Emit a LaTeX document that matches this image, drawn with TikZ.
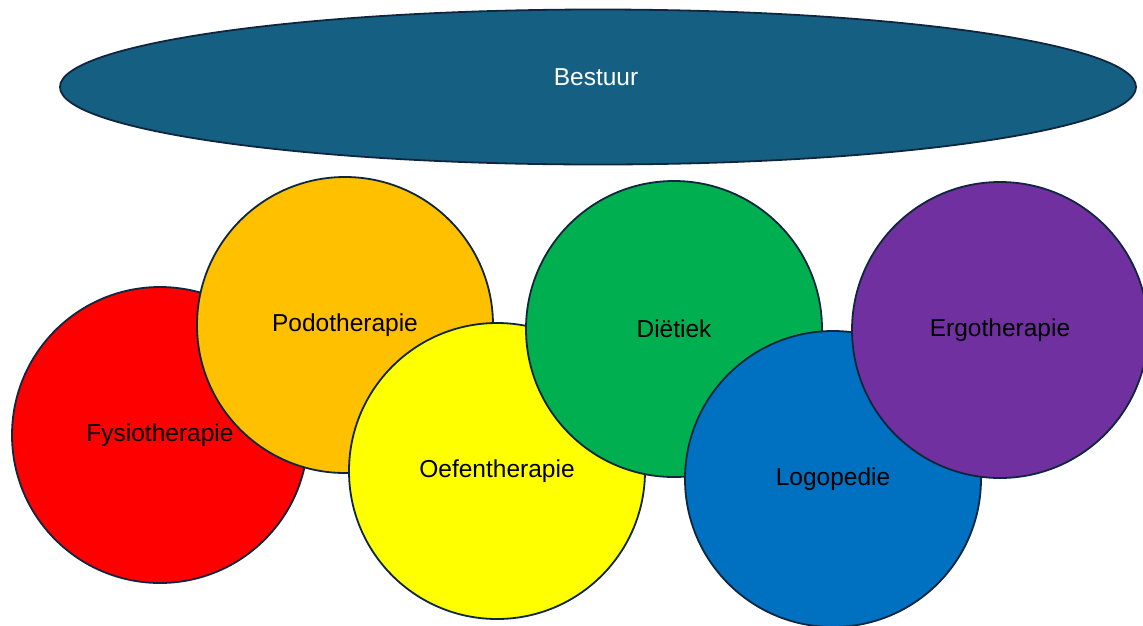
\documentclass[tikz,border=0pt]{standalone}
\usepackage{fontspec}
\setmainfont{Liberation Sans}
\usetikzlibrary{shapes.geometric}
\definecolor{edge}{HTML}{10263F}
\definecolor{cBest}{HTML}{156082}
\definecolor{cRed}{HTML}{FF0000}
\definecolor{cOrange}{HTML}{FFC000}
\definecolor{cYellow}{HTML}{FFFF00}
\definecolor{cGreen}{HTML}{00B050}
\definecolor{cBlue}{HTML}{0070C0}
\definecolor{cPurple}{HTML}{7030A0}
\tikzset{
  lbl/.style={font=\fontsize{24.5}{28}\selectfont, inner sep=0pt},
  disc/.style={circle, draw=edge, line width=1.8pt, minimum size=296pt, inner sep=0pt,
    lbl, text=black},
}
\begin{document}
\begin{tikzpicture}[x=1pt,y=-1pt]
\useasboundingbox (0,0) rectangle (1143,625);
\fill[white] (0,0) rectangle (1143,625);
\node[ellipse, draw=edge, line width=1.8pt, fill=cBest, minimum width=1076pt, minimum height=155pt,
  inner sep=0pt] (bestuur) at (598,87) {};
\node[lbl, text=white] (bestuurtext) at (596,77) {Bestuur};
\node[disc, fill=cRed] (fysio) at (160,435) {Fysiotherapie};
\node[disc, fill=cOrange] (podo) at (345,325) {Podotherapie};
\node[disc, fill=cYellow] (oefen) at (497,471) {Oefentherapie};
\node[disc, fill=cGreen] (diet) at (674,329) {Diëtiek};
\node[disc, fill=cBlue] (logo) at (833,479) {Logopedie};
\node[disc, fill=cPurple] (ergo) at (1000,330) {Ergotherapie};
\end{tikzpicture}
\end{document}
